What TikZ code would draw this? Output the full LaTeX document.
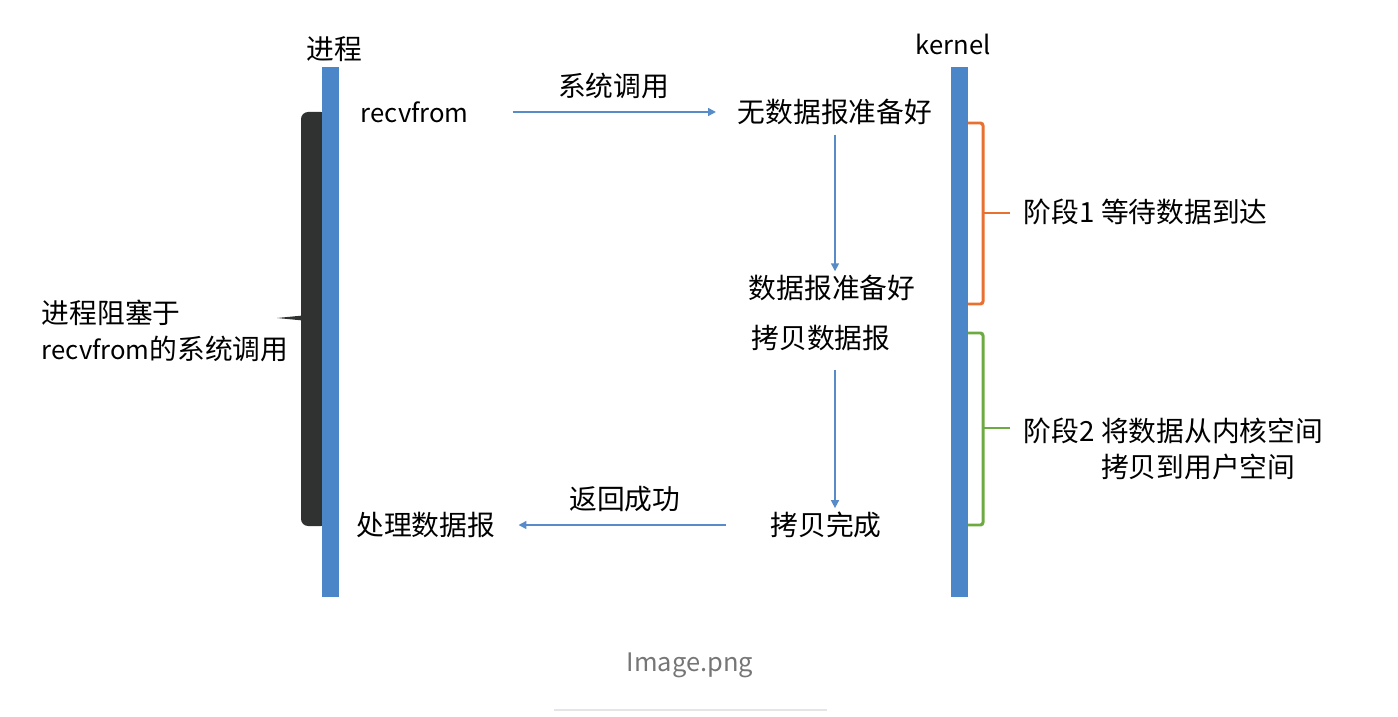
\documentclass[tikz,border=0pt]{standalone}
\usepackage{fontspec}
\setmainfont{Noto Sans CJK SC}
\usetikzlibrary{arrows.meta}
\usetikzlibrary{positioning}
\definecolor{barblue}{RGB}{74,134,200}
\definecolor{lineblue}{RGB}{88,140,200}
\definecolor{phaseone}{RGB}{232,112,48}
\definecolor{phasetwo}{RGB}{110,170,66}
\definecolor{blockgray}{RGB}{48,50,50}
\definecolor{capgray}{RGB}{118,118,118}
\newcommand{\Lat}[1]{{\fontsize{14.6}{20.5}\selectfont #1}}
\tikzstyle{txt} = [inner sep=2pt, font=\fontsize{15.8}{20.5}\selectfont]
\tikzstyle{call} = [draw=lineblue, line width=0.85pt, -{Triangle[length=4.5pt,width=4.5pt]}]

\begin{document}
\begin{tikzpicture}[x=0.02cm, y=-0.02cm, phase/.style={line width=1.7pt, rounded corners=1.5pt}]
\useasboundingbox (0,0) rectangle (1398,716);

% Bars
\fill[blockgray, rounded corners=4pt] (301,112) rectangle (328,526);
\fill[blockgray] (277,318) -- (303,315.5) -- (303,320.5) -- cycle;
\fill[barblue] (322,67) rectangle (339,597);
\fill[barblue] (951,67) rectangle (968,597);

% Define nodes
\node[txt]                 (proc)   at (334,49)  {进程};
\node[txt]                 (kern)   at (953,44)  {\Lat{kernel}};
\node[txt, anchor=west]    (recv)   at (357,112) {\Lat{recvfrom}};
\node[txt]                 (nodata) at (835,112) {无数据报准备好};
\node[txt]                 (ready)  at (832,288) {数据报准备好};
\node[txt]                 (copy)   at (821,338) {拷贝数据报};
\node[txt]                 (done)   at (826,525) {拷贝完成};
\node[txt, anchor=east]    (handle) at (499,525) {处理数据报};
\node[txt, anchor=west, align=left] (block) at (38,331) {进程阻塞于\\\Lat{recvfrom}的系统调用};
\node[txt, anchor=west]    (s1)     at (1020,212) {阶段1 等待数据到达};
\node[txt, anchor=north west, align=left] (s2) at (1020,414) {阶段2 将数据从内核空间\\\phantom{阶段2 }拷贝到用户空间};

% Edges
\draw[call, shorten <=0.8cm, shorten >=0.36cm] (recv.east) -- node[txt, pos=0.54, above=5pt] (sys) {系统调用} (nodata.west);
\draw[call, shorten <=0.12cm] (nodata.south) -- (nodata.south |- ready.north);
\draw[call, shorten <=0.3cm] (copy.south -| nodata.south) -- (done.north -| nodata.south);
\draw[call, shorten <=0.82cm, shorten >=0.39cm] (done.west) -- node[txt, pos=0.53, above=5pt] (ret) {返回成功} (handle.east);

% Phases
\draw[phase, phaseone] (968,123) -- (983,123) -- (983,304) -- (968,304);
\draw[phase, phaseone, shorten >=0.2cm] (983,213) -- (s1.west |- 983,213);
\draw[phase, phasetwo] (968,333) -- (983,333) -- (983,525) -- (968,525);
\draw[phase, phasetwo, shorten >=0.2cm] (983,428) -- (s2.west |- 983,428);

% Caption
\node[font=\fontsize{14.5}{16}\selectfont, text=capgray] (cap) at (690,665) {Image.png};
\draw[gray!20, line width=0.8pt] (554,710) -- (827,710);
\end{tikzpicture}
\end{document}
